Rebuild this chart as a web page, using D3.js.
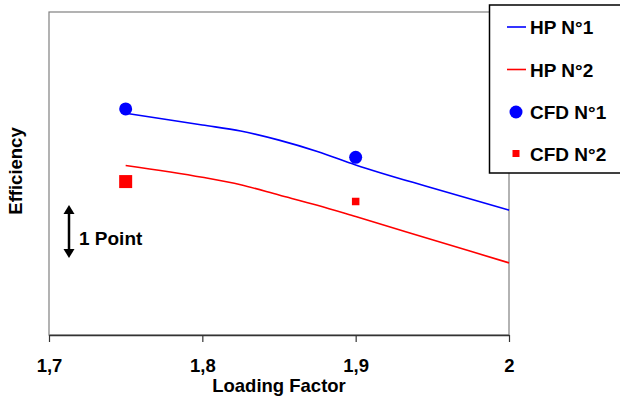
<!DOCTYPE html>
<meta charset='utf-8'>
<style>
  body { margin: 0; background: #fff; }
  text { font-family: Arial, 'Liberation Sans', sans-serif; font-weight: bold; fill: #000; }
</style>
<div id='chart'></div>
<script src='https://d3js.org/d3.v7.min.js'></script>
<script>

  // data (efficiency in "points", arbitrary origin)
  var hpX = [1.75, 1.8, 1.825, 1.85, 1.875, 1.9, 1.95, 2.0];
  var hp1 = [4.12, 3.90, 3.79, 3.62, 3.41, 3.16, 2.73, 2.32];
  var hp2 = [3.15, 2.93, 2.79, 2.60, 2.41, 2.20, 1.77, 1.34];
  var cfdX = [1.75, 1.9];
  var cfd1 = [4.20, 3.30];
  var cfd2 = [2.85, 2.48];
  var xTicks = [1.7, 1.8, 1.9, 2.0];
  var xTickLabels = ['1,7', '1,8', '1,9', '2'];
  var legendNames = ['HP N°1', 'HP N°2', 'CFD N°1', 'CFD N°2'];

  var width = 620, height = 400;
  var plot = {left: 49, right: 509, top: 12, bottom: 335};
  var cfd2Size = [13, 7.5];

  var svg = d3.select('#chart')
    .append('svg')
      .attr('width', width)
      .attr('height', height);

  var x = d3.scaleLinear()
    .domain([1.7, 2.0])
    .range([plot.left, plot.right]);

  var y = d3.scaleLinear()
    .domain([0, 6])
    .range([plot.bottom, plot.top]);

  // plot frame
  svg.append('rect')
    .attr('x', plot.left)
    .attr('y', plot.top)
    .attr('width', plot.right - plot.left)
    .attr('height', plot.bottom - plot.top)
    .attr('fill', 'none')
    .attr('stroke', '#808080')
    .attr('stroke-width', 1.2);

  // x axis
  var xAxis = svg.append('g')
    .attr('transform', 'translate(0,' + plot.bottom + ')')
    .call(d3.axisBottom(x)
      .tickValues(xTicks)
      .tickFormat(function (d, i) { return xTickLabels[i]; })
      .tickSizeInner(7)
      .tickSizeOuter(0));
  xAxis.select('.domain').attr('stroke', '#333').attr('stroke-width', 1.5);
  xAxis.selectAll('.tick line').attr('stroke', '#333').attr('stroke-width', 1.2);
  xAxis.selectAll('.tick text')
    .attr('y', 37)
    .attr('dy', 0)
    .style('font-size', '18.5px')
    .style('font-family', "Arial, 'Liberation Sans', sans-serif")
    .style('font-weight', 'bold')
    .attr('fill', '#000');

  svg.append('text')
    .attr('x', (plot.left + plot.right) / 2)
    .attr('y', 392)
    .attr('text-anchor', 'middle')
    .style('font-size', '18.5px')
    .text('Loading Factor');

  svg.append('text')
    .attr('transform', 'translate(22,171) rotate(-90)')
    .attr('text-anchor', 'middle')
    .style('font-size', '18.5px')
    .text('Efficiency');

  // lines
  var line = d3.line()
    .x(function (d) { return x(d[0]); })
    .y(function (d) { return y(d[1]); })
    .curve(d3.curveMonotoneX);

  svg.append('path')
    .datum(d3.zip(hpX, hp1))
    .attr('d', line)
    .attr('fill', 'none')
    .attr('stroke', '#0000ff')
    .attr('stroke-width', 1.6);

  svg.append('path')
    .datum(d3.zip(hpX, hp2))
    .attr('d', line)
    .attr('fill', 'none')
    .attr('stroke', '#ff0000')
    .attr('stroke-width', 1.6);

  // CFD points
  svg.append('g')
    .selectAll('circle')
    .data(d3.zip(cfdX, cfd1))
    .enter()
    .append('circle')
      .attr('cx', function (d) { return x(d[0]); })
      .attr('cy', function (d) { return y(d[1]); })
      .attr('r', 6.5)
      .attr('fill', '#0000ff');

  svg.append('g')
    .selectAll('rect')
    .data(d3.zip(cfdX, cfd2))
    .enter()
    .append('rect')
      .attr('x', function (d, i) { return x(d[0]) - cfd2Size[i] / 2; })
      .attr('y', function (d, i) { return y(d[1]) - cfd2Size[i] / 2; })
      .attr('width', function (d, i) { return cfd2Size[i]; })
      .attr('height', function (d, i) { return cfd2Size[i]; })
      .attr('fill', '#ff0000');

  // "1 Point" scale arrow
  var ax = 69, ay0 = 205, ay1 = 258;
  svg.append('line')
    .attr('x1', ax).attr('x2', ax)
    .attr('y1', ay0 + 6).attr('y2', ay1 - 6)
    .attr('stroke', '#000')
    .attr('stroke-width', 2.5);
  svg.append('path')
    .attr('d', 'M' + ax + ',' + ay0 + 'L' + (ax - 5.5) + ',' + (ay0 + 9) + 'L' + (ax + 5.5) + ',' + (ay0 + 9) + 'Z')
    .attr('fill', '#000');
  svg.append('path')
    .attr('d', 'M' + ax + ',' + ay1 + 'L' + (ax - 5.5) + ',' + (ay1 - 9) + 'L' + (ax + 5.5) + ',' + (ay1 - 9) + 'Z')
    .attr('fill', '#000');
  svg.append('text')
    .attr('x', 79)
    .attr('y', 245)
    .style('font-size', '19px')
    .text('1 Point');

  // legend
  var legend = svg.append('g');
  legend.append('rect')
    .attr('x', 489.5)
    .attr('y', 5)
    .attr('width', 140)
    .attr('height', 168)
    .attr('fill', '#fff')
    .attr('stroke', '#000')
    .attr('stroke-width', 1.5);

  var rowY = [27, 69.5, 112, 153.5];
  var colors = ['#0000ff', '#ff0000', '#0000ff', '#ff0000'];

  legendNames.forEach(function (name, i) {
    var ry = rowY[i];
    if (i < 2) {
      legend.append('line')
        .attr('x1', 507).attr('x2', 526)
        .attr('y1', ry).attr('y2', ry)
        .attr('stroke', colors[i])
        .attr('stroke-width', 1.6);
    } else if (i === 2) {
      legend.append('circle')
        .attr('cx', 516).attr('cy', ry)
        .attr('r', 6.5)
        .attr('fill', colors[i]);
    } else {
      legend.append('rect')
        .attr('x', 516 - 3.5).attr('y', ry - 3.5)
        .attr('width', 7).attr('height', 7)
        .attr('fill', colors[i]);
    }
    legend.append('text')
      .attr('x', 530)
      .attr('y', ry + 7)
      .style('font-size', '19px')
      .text(name);
  });

</script>
